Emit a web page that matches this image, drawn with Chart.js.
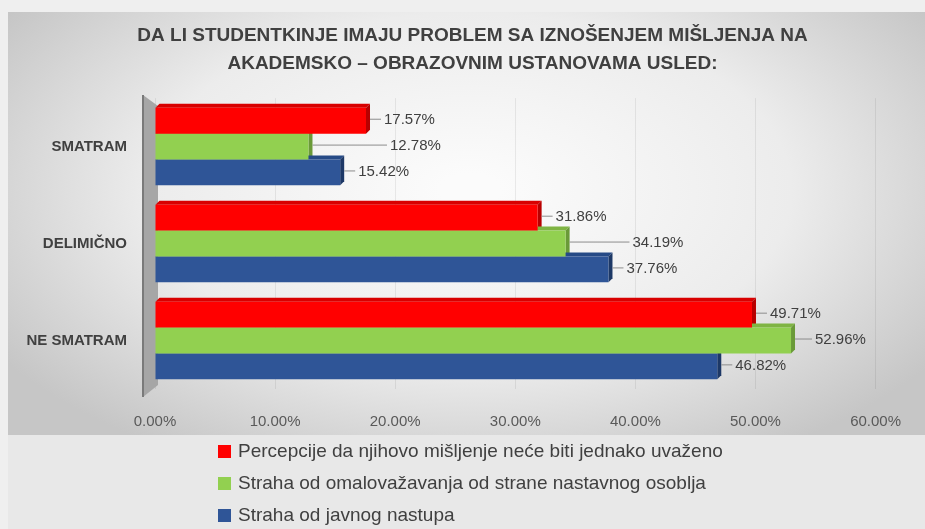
<!DOCTYPE html>
<html>
<head>
<meta charset="utf-8">
<script src="https://cdn.jsdelivr.net/npm/chart.js@4"></script>
<style>
  html, body { margin: 0; padding: 0; background: #efefef; }
  #wrap { width: 925px; height: 529px; }
</style>
</head>
<body>
<div id="wrap"><canvas id="c" width="925" height="529"></canvas></div>
<script>
// ── Data ──────────────────────────────────────────────────────────────────────
const categories = ['SMATRAM', 'DELIMIČNO', 'NE SMATRAM'];
const seriesNames = [
  'Percepcije da njihovo mišljenje neće biti jednako uvaženo',
  'Straha od omalovažavanja od strane nastavnog osoblja',
  'Straha od javnog nastupa'
];
const perceptionValues = [17.57, 31.86, 49.71];
const belittlingValues = [12.78, 34.19, 52.96];
const publicSpeakingValues = [15.42, 37.76, 46.82];
const xTicks = [0, 10, 20, 30, 40, 50, 60];
const titleLines = [
  'DA LI STUDENTKINJE IMAJU PROBLEM SA IZNOŠENJEM MIŠLJENJA NA',
  'AKADEMSKO – OBRAZOVNIM USTANOVAMA USLED:'
];

// ── Styles ────────────────────────────────────────────────────────────────────
const FRONT = ['#ff0000', '#92d050', '#2f5597'];
const SIDE = ['#b80000', '#6a9a38', '#1d3866'];
const TOP = ['#d80000', '#7fb443', '#264a86'];
const TEXT = '#404040';
const FONT = '"Liberation Sans", Arial, sans-serif';
const DEPTH = 4;

// ── Background panel ──────────────────────────────────────────────────────────
const panelPlugin = {
  id: 'panel',
  beforeDraw(chart) {
    const ctx = chart.ctx;
    ctx.save();
    ctx.fillStyle = '#efefef';
    ctx.fillRect(0, 0, chart.width, chart.height);
    ctx.save();
    ctx.beginPath();
    ctx.rect(8, 12, chart.width - 8, 423);
    ctx.clip();
    ctx.translate(470, 190);
    ctx.scale(1, 0.55);
    const g = ctx.createRadialGradient(0, 0, 30, 0, 0, 560);
    g.addColorStop(0, '#fbfbfb');
    g.addColorStop(0.55, '#ececec');
    g.addColorStop(1, '#c6c6c6');
    ctx.fillStyle = g;
    ctx.fillRect(-600, -600, 1200, 1200);
    ctx.restore();
    ctx.fillStyle = '#e8e8e8';
    ctx.fillRect(8, 435, chart.width - 8, chart.height - 435);
    ctx.restore();
  }
};

// ── 3D wall + bar extrusions ──────────────────────────────────────────────────
const depthPlugin = {
  id: 'depth',
  beforeDatasetsDraw(chart) {
    const ctx = chart.ctx;
    const a = chart.chartArea;
    ctx.save();
    // left wall
    ctx.fillStyle = '#a6a6a6';
    ctx.beginPath();
    ctx.moveTo(a.left - 12, a.top - 3);
    ctx.lineTo(a.left + 3, a.top + 8);
    ctx.lineTo(a.left + 3, a.bottom - 4);
    ctx.lineTo(a.left - 12, a.bottom + 8);
    ctx.closePath();
    ctx.fill();
    ctx.strokeStyle = '#7a7a7a';
    ctx.lineWidth = 2;
    ctx.beginPath();
    ctx.moveTo(a.left - 12, a.top - 3);
    ctx.lineTo(a.left - 12, a.bottom + 8);
    ctx.stroke();
    // extrusions
    chart.data.datasets.forEach((ds, di) => {
      chart.getDatasetMeta(di).data.forEach(bar => {
        const top = bar.y - bar.height / 2;
        const bottom = bar.y + bar.height / 2;
        const left = bar.base;
        const right = bar.x;
        ctx.fillStyle = TOP[di];
        ctx.beginPath();
        ctx.moveTo(left, top);
        ctx.lineTo(left + DEPTH, top - DEPTH);
        ctx.lineTo(right + DEPTH, top - DEPTH);
        ctx.lineTo(right, top);
        ctx.closePath();
        ctx.fill();
        ctx.fillStyle = SIDE[di];
        ctx.beginPath();
        ctx.moveTo(right, top);
        ctx.lineTo(right + DEPTH, top - DEPTH);
        ctx.lineTo(right + DEPTH, bottom - DEPTH);
        ctx.lineTo(right, bottom);
        ctx.closePath();
        ctx.fill();
      });
    });
    ctx.restore();
  }
};

// ── Value labels with leader lines ────────────────────────────────────────────
const valueLabelPlugin = {
  id: 'valueLabels',
  afterDatasetsDraw(chart) {
    const ctx = chart.ctx;
    const metas = chart.data.datasets.map((_, i) => chart.getDatasetMeta(i));
    ctx.save();
    ctx.font = '15px ' + FONT;
    ctx.textBaseline = 'middle';
    ctx.textAlign = 'left';
    chart.data.datasets.forEach((ds, di) => {
      metas[di].data.forEach((bar, idx) => {
        let reach = bar.x;
        let gap = 18;
        if (di === 1) {
          reach = Math.max(...metas.map(m => m.data[idx].x));
          gap = 24;
        }
        const lx = reach + gap;
        ctx.strokeStyle = '#8c8c8c';
        ctx.lineWidth = 1;
        ctx.beginPath();
        ctx.moveTo(bar.x + DEPTH, bar.y - 1.5);
        ctx.lineTo(lx - 3, bar.y - 1.5);
        ctx.stroke();
        ctx.fillStyle = TEXT;
        ctx.fillText(ds.data[idx].toFixed(2) + '%', lx, bar.y - 1);
      });
    });
    ctx.restore();
  }
};

// ── Legend (vertical list) ────────────────────────────────────────────────────
const legendPlugin = {
  id: 'listLegend',
  afterDraw(chart) {
    const ctx = chart.ctx;
    ctx.save();
    ctx.font = '19px ' + FONT;
    ctx.textBaseline = 'middle';
    seriesNames.forEach((name, i) => {
      const y = 452 + i * 32;
      ctx.fillStyle = FRONT[i];
      ctx.fillRect(218, y - 7, 13, 13);
      ctx.fillStyle = TEXT;
      ctx.fillText(name, 238, y);
    });
    ctx.restore();
  }
};

const seriesValues = [perceptionValues, belittlingValues, publicSpeakingValues];

new Chart(document.getElementById('c'), {
  type: 'bar',
  data: {
    labels: categories,
    datasets: seriesValues.map((vals, i) => ({
      label: seriesNames[i],
      data: vals,
      backgroundColor: FRONT[i],
      borderWidth: 0,
      barPercentage: 1.0,
      categoryPercentage: 0.8
    }))
  },
  options: {
    indexAxis: 'y',
    responsive: false,
    animation: false,
    devicePixelRatio: 1,
    layout: { padding: { left: 20, right: 0, top: 0, bottom: 74 } },
    plugins: {
      legend: { display: false },
      tooltip: { enabled: false },
      title: {
        display: true,
        text: titleLines,
        color: TEXT,
        font: { family: FONT, size: 19, weight: 'bold', lineHeight: 1.45 },
        padding: { top: 22, bottom: 21 }
      }
    },
    scales: {
      x: {
        min: 0,
        max: 60,
        afterBuildTicks(scale) { scale.ticks = xTicks.map(v => ({ value: v })); },
        grid: { color: 'rgba(0,0,0,0.07)', drawTicks: false },
        border: { display: false },
        ticks: {
          color: '#595959',
          font: { family: FONT, size: 15 },
          padding: 24,
          callback: v => Number(v).toFixed(2) + '%'
        }
      },
      y: {
        afterFit(scale) { scale.width = 135; },
        grid: { display: false },
        border: { display: false },
        ticks: {
          color: TEXT,
          font: { family: FONT, size: 15, weight: 'bold' },
          padding: 20
        }
      },
      // empty right-hand spacer so the plot ends where the reference does
      yRight: {
        type: 'linear',
        position: 'right',
        afterFit(scale) { scale.width = 47; },
        grid: { display: false },
        border: { display: false },
        ticks: { display: false }
      }
    }
  },
  plugins: [panelPlugin, depthPlugin, valueLabelPlugin, legendPlugin]
});
</script>
</body>
</html>
